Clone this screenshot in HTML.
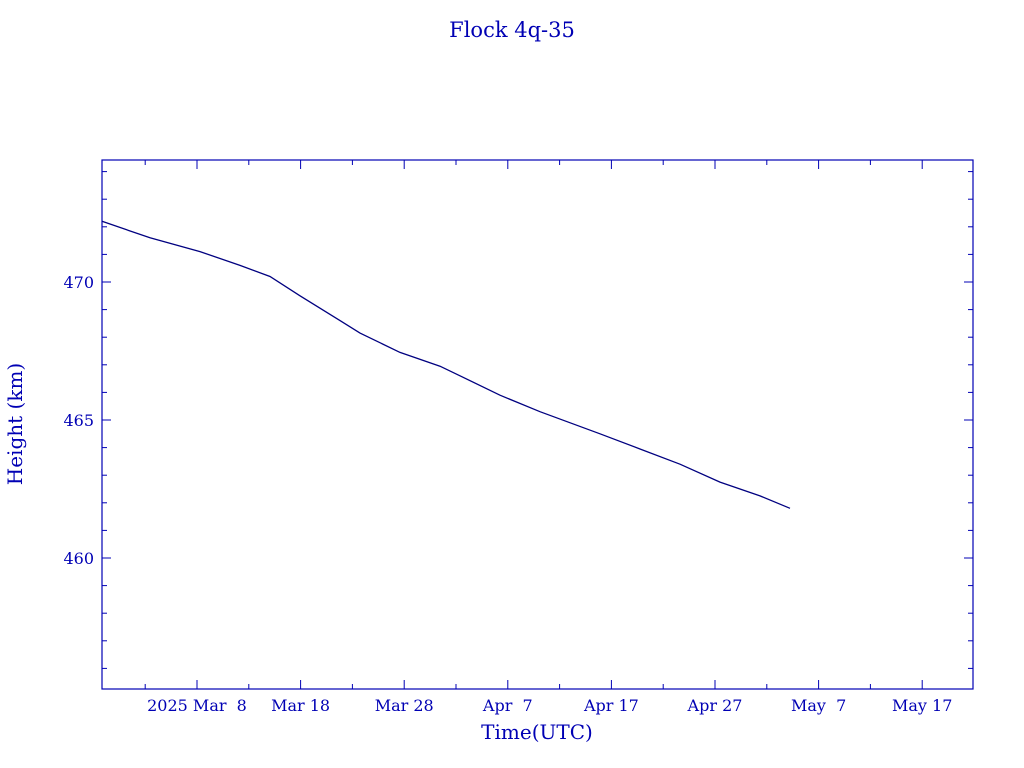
<!DOCTYPE html>
<html><head><meta charset="utf-8"><style>
body{margin:0;background:#fff;}
svg{display:block;}
text{font-family:"DejaVu Serif","Liberation Serif",serif;fill:#0000b4;}
</style></head><body>
<svg id="chart" width="1024" height="768">
<text x="512" y="37" text-anchor="middle" font-size="21">Flock 4q-35</text>
<rect x="102" y="160" width="871" height="529" fill="none" stroke="#0000b4" stroke-width="1.2"/>
<g id="axes"></g>
<path id="line" fill="none" stroke="#000080" stroke-width="1.3"/>
<text x="537" y="739" text-anchor="middle" font-size="20">Time(UTC)</text>
<text transform="translate(22,424) rotate(-90)" text-anchor="middle" font-size="20">Height (km)</text>
</svg>
<script>
// days relative to 2025 Mar 8
const days = [-9.17,-4.54,0.29,4.15,7.05,9.94,13.8,15.73,19.59,23.46,25.39,29.25,33.11,38.9,42.76,46.62,50.48,54.34,57.24];
const heights = [472.2,471.6,471.1,470.6,470.2,469.5,468.6,468.15,467.45,466.95,466.6,465.9,465.3,464.5,463.95,463.4,462.75,462.25,461.8];
const yTicks = [460,465,470];
const xTickDays = [0,10,20,30,40,50,60,70];
const xTickLabels = ["2025 Mar  8","Mar 18","Mar 28","Apr  7","Apr 17","Apr 27","May  7","May 17"];
const L=102,R=973,T=160,B=689;
const xs=d=>197+d*10.36;
const ys=v=>282-(v-470)*27.6;
const ns="http://www.w3.org/2000/svg";
const g=document.getElementById('axes');
function ln(x1,y1,x2,y2,name){const e=document.createElementNS(ns,'line');
e.setAttribute('x1',x1);e.setAttribute('y1',y1);e.setAttribute('x2',x2);e.setAttribute('y2',y2);
e.setAttribute('stroke','#0000b4');e.setAttribute('stroke-width','1');


g.appendChild(e);}
for(let v=456;v<=474;v++){const y=ys(v);const len=(v%5===0)?9:5;
ln(L,y,L+len,y,'y-tick');ln(R,y,R-len,y,'y-tick');}
yTicks.forEach(v=>{const t=document.createElementNS(ns,'text');
t.setAttribute('x',94);t.setAttribute('y',ys(v)+6);t.setAttribute('text-anchor','end');t.setAttribute('font-size','16');
t.textContent=v;


g.appendChild(t);});
for(let d=-5;d<=70;d+=5){const x=xs(d);const len=(d%10===0)?9:5;
ln(x,B,x,B-len,'x-tick');ln(x,T,x,T+len,'x-tick');}
xTickDays.forEach((d,i)=>{const t=document.createElementNS(ns,'text');
t.setAttribute('x',xs(d));t.setAttribute('y',711);t.setAttribute('text-anchor','middle');t.setAttribute('font-size','16');
t.setAttribute('xml:space','preserve');t.style.whiteSpace='pre';
t.textContent=xTickLabels[i];


g.appendChild(t);});
document.getElementById('line').setAttribute('d',days.map((d,i)=>(i?'L':'M')+xs(d).toFixed(1)+','+ys(heights[i]).toFixed(1)).join(''));
</script>
</body></html>
